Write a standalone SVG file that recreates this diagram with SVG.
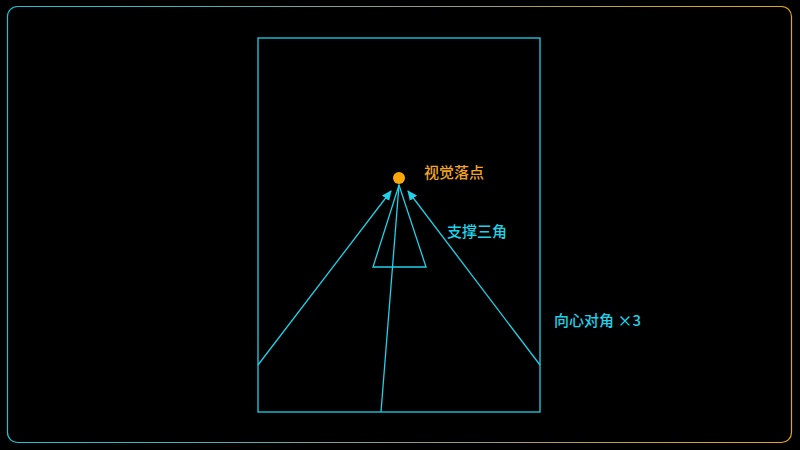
<svg xmlns="http://www.w3.org/2000/svg" width="800" height="450" viewBox="0 0 800 450">
<defs>
<linearGradient id="frameGrad" x1="0" y1="0" x2="1" y2="0">
<stop offset="0" stop-color="#1cc4d8"/>
<stop offset="0.5" stop-color="#8a9a8a"/>
<stop offset="1" stop-color="#e8a418"/>
</linearGradient>
<marker id="arrow" viewBox="0 0 10 10" refX="9" refY="5" markerWidth="10" markerHeight="10" markerUnits="userSpaceOnUse" orient="auto">
<path d="M0,0.5 L10,5 L0,9.5 Z" fill="#1ed2ea"/>
</marker>
<style>
.ln{stroke:#1ed2ea;stroke-width:1.3;fill:none}
.cy{fill:#1ed2ea;font-family:"Noto Sans CJK SC","Noto Sans",sans-serif;font-size:15px;font-weight:500}
.or{fill:#f2a524;font-family:"Noto Sans CJK SC","Noto Sans",sans-serif;font-size:15px;font-weight:500}
</style>
</defs>
<rect width="800" height="450" fill="#000"/>
<rect id="frame" x="7.5" y="6.5" width="784" height="436" rx="10" fill="none" stroke="url(#frameGrad)" stroke-width="1.2"/>
<g id="canvas">
<rect x="258" y="38" width="282" height="374" class="ln"/>
</g>
<g id="connectors">
<line x1="258" y1="365" x2="391" y2="191" class="ln" marker-end="url(#arrow)"/>
<line x1="540" y1="365" x2="408" y2="191" class="ln" marker-end="url(#arrow)"/>
<line x1="381" y1="412" x2="399" y2="185" class="ln"/>
</g>
<g id="triangle">
<polygon points="399,185 373,267 426,267" class="ln"/>
</g>
<g id="focus">
<circle cx="399" cy="178" r="6" fill="#ffa60a"/>
<text x="424" y="178" class="or">视觉落点</text>
</g>
<g id="label-triangle">
<text x="447" y="237" class="cy">支撑三角</text>
</g>
<g id="label-diag">
<text x="554" y="326" class="cy">向心对角 ×3</text>
</g>
</svg>
